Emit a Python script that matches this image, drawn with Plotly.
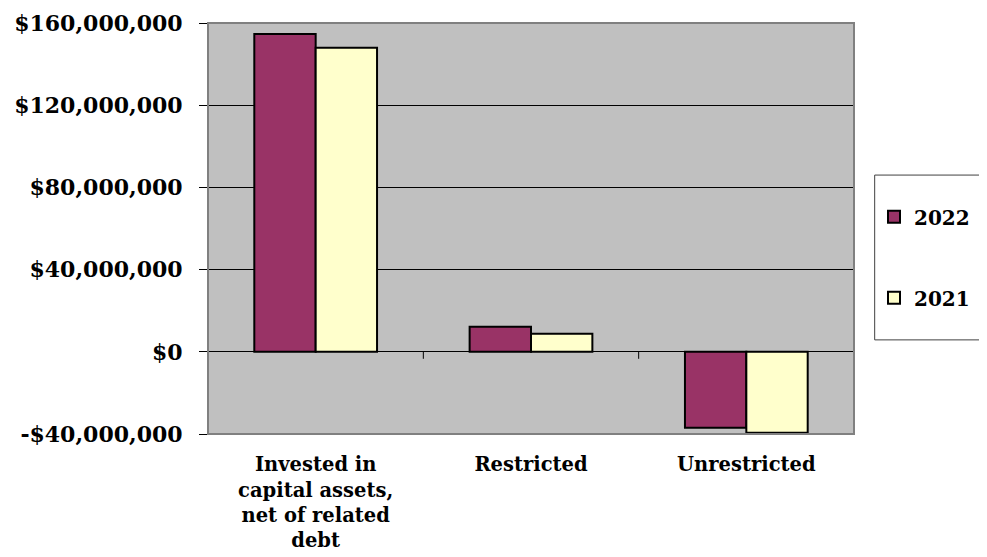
import plotly.graph_objects as go

categories = ["Invested in<br>capital assets,<br>net of related<br>debt", "Restricted", "Unrestricted"]
values_2022 = [154700000, 12200000, -37000000]
values_2021 = [147900000, 8800000, -39400000]
y_ticks = [-40000000, 0, 40000000, 80000000, 120000000, 160000000]
y_tick_labels = ["-$40,000,000", "$0", "$40,000,000", "$80,000,000", "$120,000,000", "$160,000,000"]

FONT = "DejaVu Serif"

fig = go.Figure()
fig.add_trace(go.Bar(name="2022", x=categories, y=values_2022,
                     marker=dict(color="#993366", line=dict(color="black", width=2)),
                     legendgroup="a"))
fig.add_trace(go.Bar(name="2021", x=categories, y=values_2021,
                     marker=dict(color="#FFFFCC", line=dict(color="black", width=2)),
                     legendgroup="b"))

# small category-boundary ticks on the zero line
for xb in [0.5, 1.5, 2.5]:
    fig.add_shape(type="line", xref="x", yref="y", x0=xb, x1=xb,
                  ysizemode="pixel", yanchor=0, y0=0, y1=-7,
                  line=dict(color="black", width=1))

fig.update_layout(
    width=979, height=549,
    margin=dict(l=200, r=130, t=15, b=123),
    paper_bgcolor="white", plot_bgcolor="#C0C0C0",
    barmode="group", bargap=0.43, bargroupgap=0,
    font=dict(family=FONT, size=18, color="black", weight="bold"),
    showlegend=True,
    legend=dict(x=1.031, y=0.43, xanchor="left", yanchor="middle",
                bgcolor="rgba(0,0,0,0)", borderwidth=0,
                tracegroupgap=52, font=dict(family=FONT, size=20, color="black", weight="bold"),
                itemwidth=30),
    xaxis=dict(showgrid=False, showline=False, ticks="outside", ticklen=13,
               tickcolor="rgba(0,0,0,0)", automargin=False,
               tickfont=dict(family=FONT, size=19.5, color="black", weight="bold"),
               range=[-0.5, 2.5]),
    yaxis=dict(range=[-40000000, 160000000], tickvals=y_ticks, ticktext=y_tick_labels,
               showgrid=True, gridcolor="black", gridwidth=1, automargin=False,
               zeroline=True, zerolinecolor="black", zerolinewidth=1,
               showline=True, linecolor="black", linewidth=1,
               ticks="outside", ticklen=8, tickcolor="black", ticklabelstandoff=12,
               tickfont=dict(family=FONT, size=22, color="black", weight="bold")),
)

# gray frame for plot area
fig.add_shape(type="rect", xref="paper", yref="paper", x0=0, x1=1, y0=0, y1=1,
              line=dict(color="#808080", width=2), layer="above")
# legend frame
fig.add_shape(type="rect", xref="paper", yref="paper", x0=1.032, x1=1.25, y0=0.229, y1=0.630,
              line=dict(color="#404040", width=1), fillcolor="white", layer="below")
fig.write_html("out.html")
